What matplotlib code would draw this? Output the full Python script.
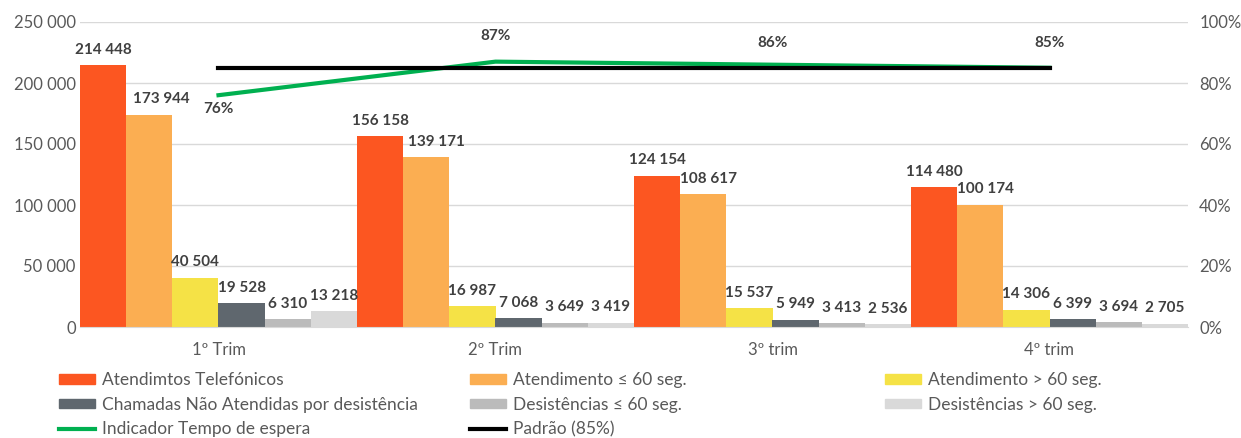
import matplotlib.pyplot as plt
import numpy as np
from matplotlib.patches import Patch
from matplotlib.lines import Line2D

plt.rcParams['font.family'] = ['Lato', 'DejaVu Sans']

quarters = ['1º Trim', '2º Trim', '3º trim', '4º trim']
series_names = ['Atendimtos Telefónicos', 'Atendimento ≤ 60 seg.', 'Atendimento > 60 seg.',
                'Chamadas Não Atendidas por desistência', 'Desistências ≤ 60 seg.', 'Desistências > 60 seg.']
atendimentos = [214448, 156158, 124154, 114480]
atend_le60 = [173944, 139171, 108617, 100174]
atend_gt60 = [40504, 16987, 15537, 14306]
nao_atendidas = [19528, 7068, 5949, 6399]
desist_le60 = [6310, 3649, 3413, 3694]
desist_gt60 = [13218, 3419, 2536, 2705]
indicador = [0.76, 0.87, 0.86, 0.85]
padrao = [0.85, 0.85, 0.85, 0.85]

bar_series = [atendimentos, atend_le60, atend_gt60, nao_atendidas, desist_le60, desist_gt60]
colors = ['#FC5621', '#FBAE52', '#F5E246', '#5F676E', '#BBBBBB', '#D9D9D9']

txt_gray = '#595959'
lbl_col = '#404040'

fig = plt.figure(figsize=(12.41, 4.38), dpi=100)
ax = fig.add_axes([80 / 1241, 1 - 327 / 438, 1108 / 1241, 305 / 438])
ax2 = ax.twinx()

x = np.arange(len(quarters))
w = 1 / 6
# the orange-bar labels sit a little right of their bars, as in the original
shift_orange = [9, 7, 4, 4]
for i, vals in enumerate(bar_series):
    pos = x - 0.5 + w * (i + 0.5)
    ax.bar(pos, vals, width=w, color=colors[i], zorder=2)
    for j, (p, v) in enumerate(zip(pos, vals)):
        dx = shift_orange[j] if i == 1 else 0
        ax.annotate(f"{v:,}".replace(",", " "), (p, v), xytext=(dx, 6), textcoords='offset points',
                    ha='center', va='bottom', fontsize=11, fontweight='bold', color=lbl_col)

ax.set_xlim(-0.5, len(quarters) - 0.5)
ax.set_ylim(0, 250000)
ax.set_yticks(range(0, 250001, 50000))
ax.set_yticklabels([f"{t:,}".replace(",", " ") for t in range(0, 250001, 50000)])
ax.set_xticks(x)
ax.set_xticklabels(quarters)
ax.grid(axis='y', color='#D9D9D9', linewidth=1, zorder=0)
ax.set_axisbelow(True)
for s in ['top', 'right', 'left']:
    ax.spines[s].set_visible(False)
ax.spines['bottom'].set_color('#D9D9D9')
ax.tick_params(axis='both', length=0, labelsize=12, labelcolor=txt_gray)
ax.tick_params(axis='y', pad=3)
ax.tick_params(axis='x', pad=11)

ax2.plot(x, indicador, color='#00B050', linewidth=3, zorder=3)
ax2.plot(x, padrao, color='black', linewidth=3, zorder=4)
ax2.set_ylim(0, 1)
ax2.set_yticks(np.linspace(0, 1, 6))
ax2.set_yticklabels([f"{int(t * 100)}%" for t in np.linspace(0, 1, 6)])
for s in ax2.spines.values():
    s.set_visible(False)
ax2.tick_params(axis='y', length=0, labelsize=12, labelcolor=txt_gray, pad=8)
offsets = [-14, 26, 22, 25]
for xi, v, off in zip(x, indicador, offsets):
    ax2.annotate(f"{int(round(v * 100))}%", (xi, v), xytext=(0, off * 0.72), textcoords='offset points',
                 ha='center', va='center', fontsize=11, fontweight='bold', color=lbl_col)

handles = [Patch(color=c) for c in colors]
handles += [Line2D([], [], color='#00B050', linewidth=3), Line2D([], [], color='black', linewidth=3)]
labels = series_names + ['Indicador Tempo de espera', 'Padrão (85%)']
cols = [[0, 3, 6], [1, 4, 7], [2, 5]]
col_x = [59, 470, 885]
for cx, idx in zip(col_x, cols):
    fig.legend([handles[i] for i in idx], [labels[i] for i in idx], loc='upper left',
               bbox_to_anchor=(cx / 1241, 1 - 372 / 438), frameon=False, fontsize=12.5,
               labelcolor=txt_gray, handlelength=2.1, handleheight=0.5, handletextpad=0.4,
               labelspacing=0.5, borderpad=0, borderaxespad=0)

fig.savefig('out.png', dpi=100)
